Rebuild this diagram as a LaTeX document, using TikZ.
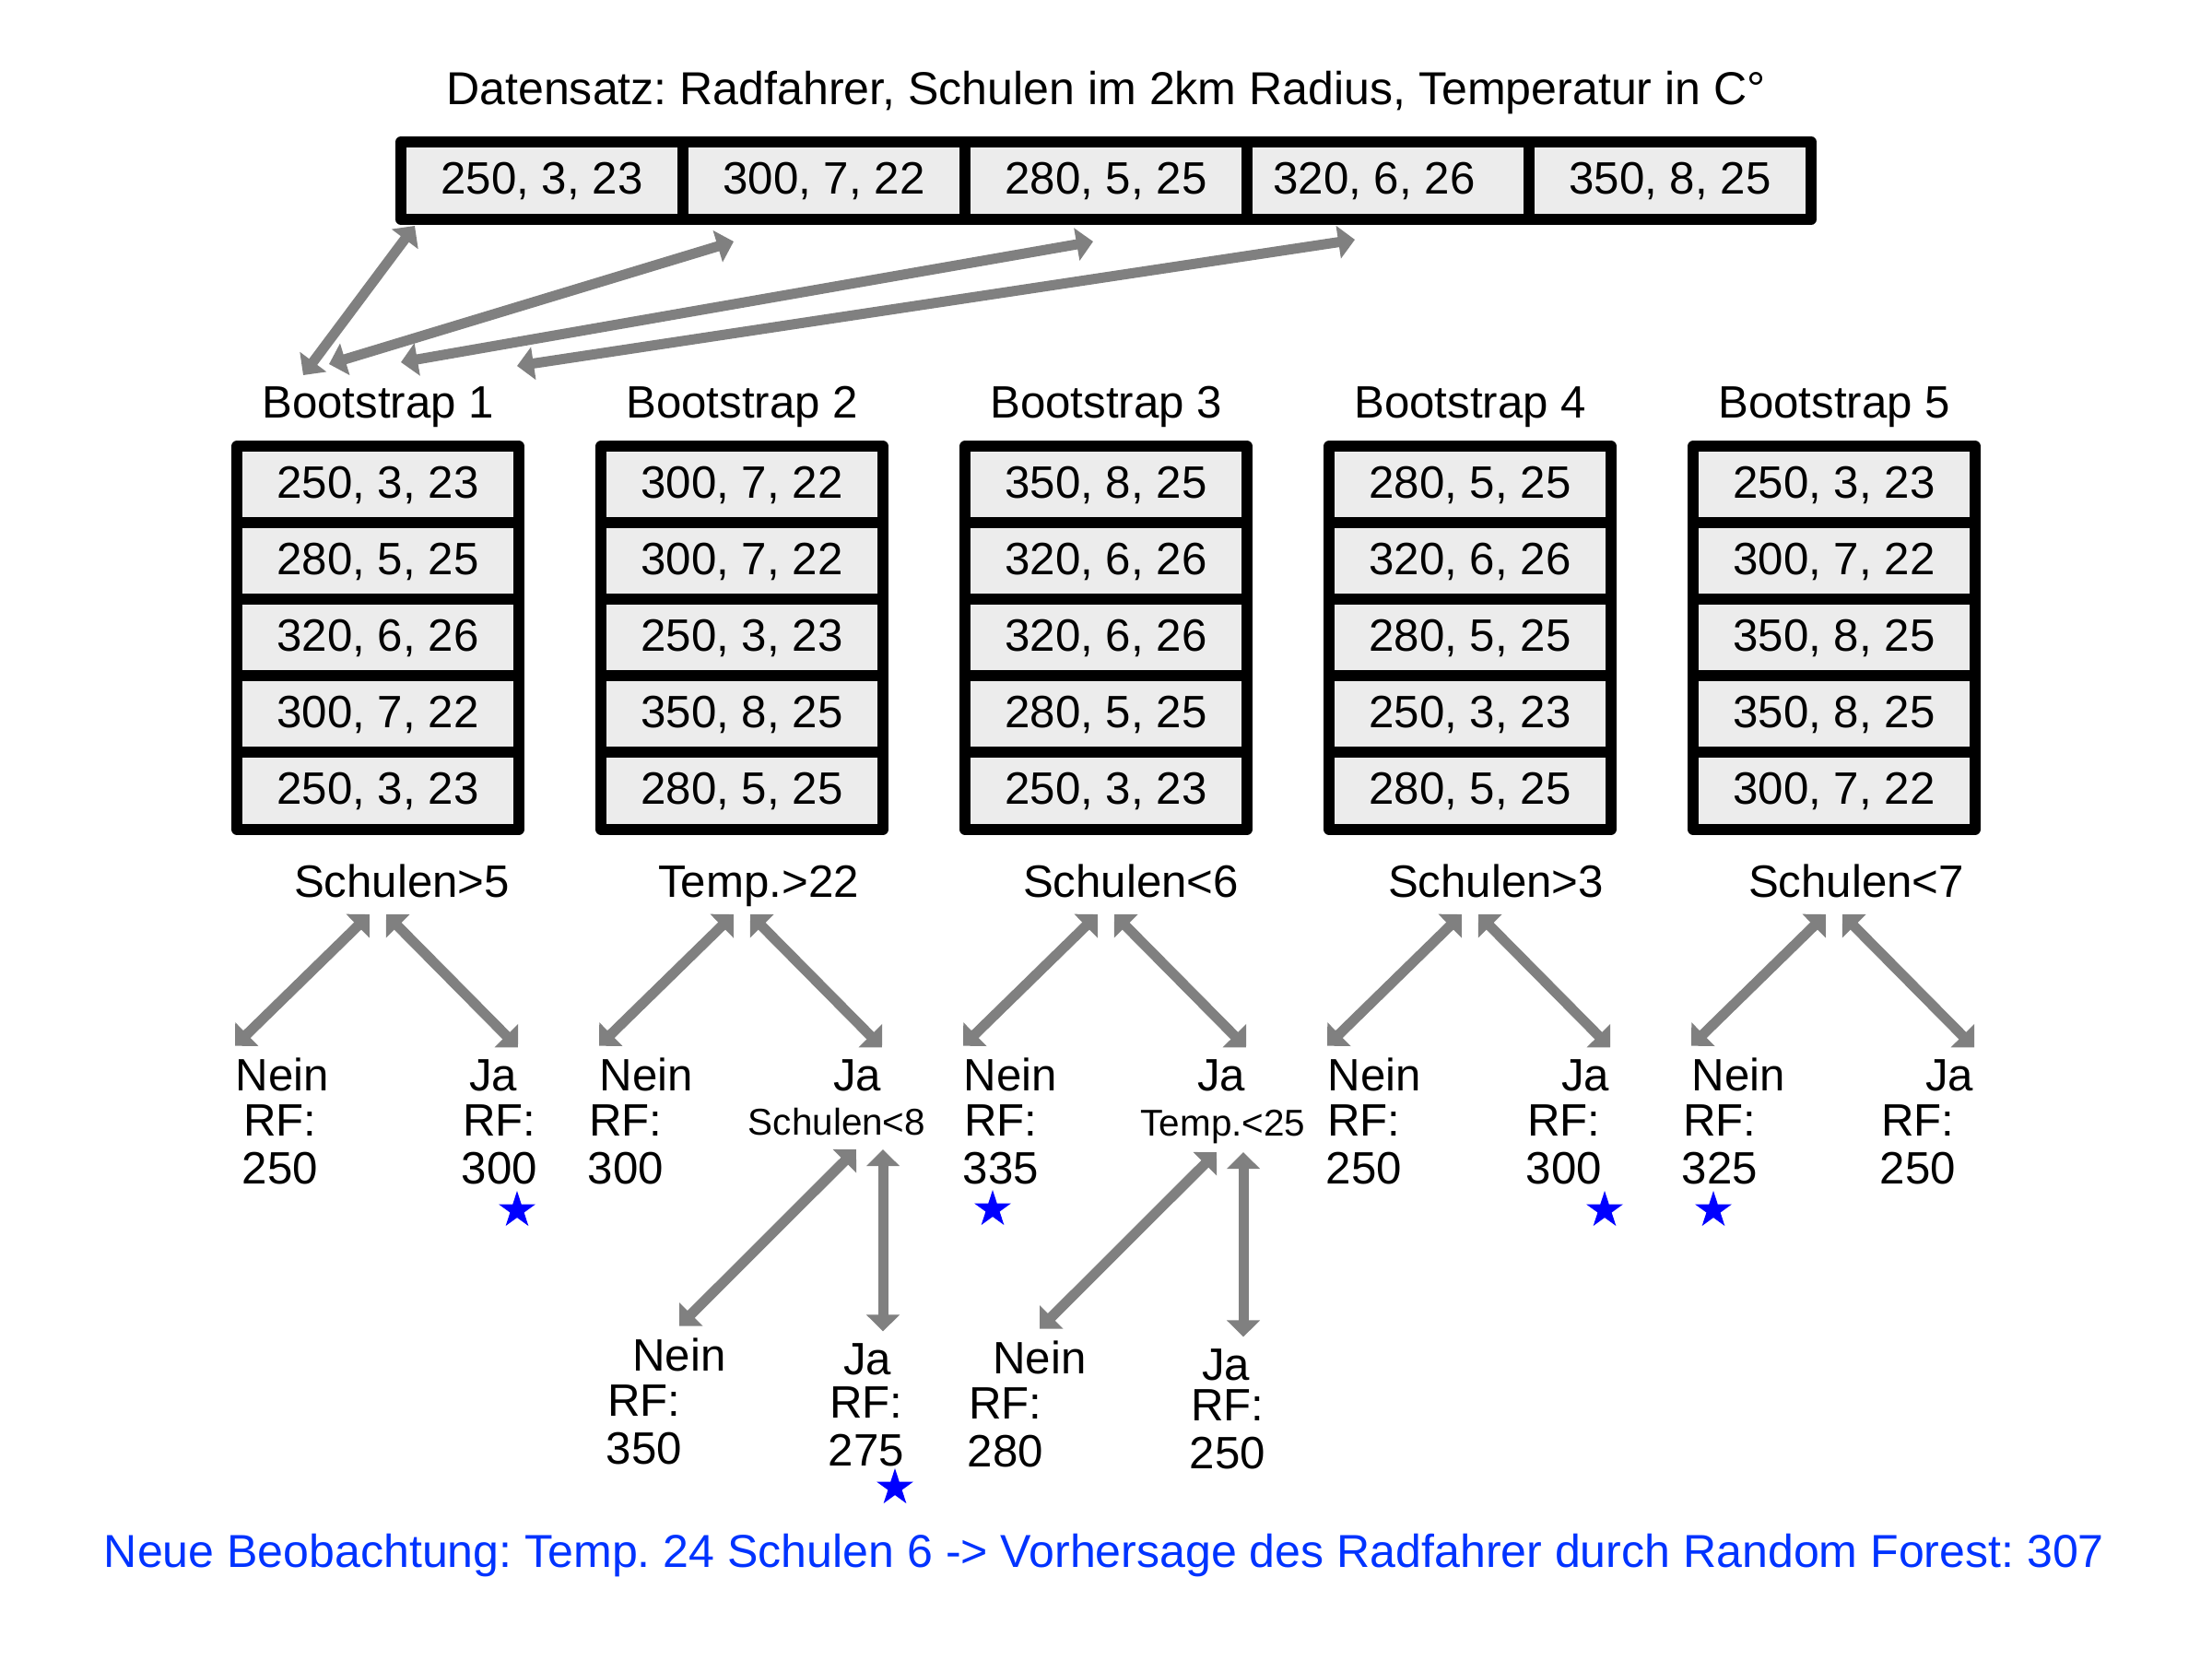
\documentclass[tikz,border=0pt]{standalone}
\usepackage{fontspec}
\setmainfont{Liberation Sans}
\usepackage{tikz}
\usetikzlibrary{arrows.meta, shapes.geometric}
\definecolor{predblue}{RGB}{0,51,255}
\frenchspacing

\begin{document}
\begin{tikzpicture}[
      every node/.style = {font=\fontsize{14}{14.8}\selectfont, inner sep=0pt},
      cell/.style = {
        rectangle, draw=black, fill=gray!15, line width=1.2mm, line join=round,
        minimum width=3.06cm, minimum height=0.832cm,
        text height=0.35cm, text depth=0.06cm
      },
      arr/.style = {
        draw=gray, line width=1.1mm,
        {Triangle[length=1.8mm, width=3.5mm]}-{Triangle[length=1.8mm, width=3.5mm]}
      },
      leaf/.style = {inner ysep=1.2mm},
      subsplit/.style = {font=\fontsize{11.5}{13}\selectfont},
      rf/.style = {align=center},
      wide/.style = {font=\fontsize{14.25}{15}\selectfont},
      hit/.style = {star, star points=5, star point ratio=2.618, fill=blue, minimum size=4.2mm}
    ]

    \useasboundingbox (0,0) rectangle (24,-18);

    % Datensatz
    \node[wide, anchor=base] (title) at (12,-1.13) {Datensatz: Radfahrer, Schulen im 2km Radius, Temperatur in C°};

    \node[cell, minimum height=0.84cm] (D1) at ( 5.88,-1.96) {250, 3, 23};
    \node[cell, minimum height=0.84cm] (D2) at ( 8.94,-1.96) {300, 7, 22};
    \node[cell, minimum height=0.84cm] (D3) at (12.00,-1.96) {280, 5, 25};
    \node[cell, minimum height=0.84cm] (D4) at (15.06,-1.96) {320, 6, 26\hspace*{3mm}};
    \node[cell, minimum height=0.84cm] (D5) at (18.12,-1.96) {350, 8, 25};

    % Ziehen mit Zuruecklegen
    \coordinate (pick1) at ( 4.50,-2.45);  \coordinate (take1) at (3.29,-4.07);
    \coordinate (pick2) at ( 7.96,-2.62);  \coordinate (take2) at (3.57,-3.95);
    \coordinate (pick3) at (11.86,-2.62);  \coordinate (take3) at (4.35,-3.93);
    \coordinate (pick4) at (14.70,-2.60);  \coordinate (take4) at (5.61,-3.97);
    \draw[arr] (pick1) -- (take1);
    \draw[arr] (pick2) -- (take2);
    \draw[arr] (pick3) -- (take3);
    \draw[arr] (pick4) -- (take4);

    % Bootstrap-Stichproben
    \node[anchor=base] (B1lab) at ( 4.10,-4.53) {Bootstrap 1};
    \node[anchor=base] (B2lab) at ( 8.05,-4.53) {Bootstrap 2};
    \node[anchor=base] (B3lab) at (12.00,-4.53) {Bootstrap 3};
    \node[anchor=base] (B4lab) at (15.95,-4.53) {Bootstrap 4};
    \node[anchor=base] (B5lab) at (19.90,-4.53) {Bootstrap 5};

    \node[cell] (B1a) at ( 4.10,-5.26) {250, 3, 23};
    \node[cell] (B1b) at ( 4.10,-6.09) {280, 5, 25};
    \node[cell] (B1c) at ( 4.10,-6.92) {320, 6, 26};
    \node[cell] (B1d) at ( 4.10,-7.75) {300, 7, 22};
    \node[cell] (B1e) at ( 4.10,-8.58) {250, 3, 23};

    \node[cell] (B2a) at ( 8.05,-5.26) {300, 7, 22};
    \node[cell] (B2b) at ( 8.05,-6.09) {300, 7, 22};
    \node[cell] (B2c) at ( 8.05,-6.92) {250, 3, 23};
    \node[cell] (B2d) at ( 8.05,-7.75) {350, 8, 25};
    \node[cell] (B2e) at ( 8.05,-8.58) {280, 5, 25};

    \node[cell] (B3a) at (12.00,-5.26) {350, 8, 25};
    \node[cell] (B3b) at (12.00,-6.09) {320, 6, 26};
    \node[cell] (B3c) at (12.00,-6.92) {320, 6, 26};
    \node[cell] (B3d) at (12.00,-7.75) {280, 5, 25};
    \node[cell] (B3e) at (12.00,-8.58) {250, 3, 23};

    \node[cell] (B4a) at (15.95,-5.26) {280, 5, 25};
    \node[cell] (B4b) at (15.95,-6.09) {320, 6, 26};
    \node[cell] (B4c) at (15.95,-6.92) {280, 5, 25};
    \node[cell] (B4d) at (15.95,-7.75) {250, 3, 23};
    \node[cell] (B4e) at (15.95,-8.58) {280, 5, 25};

    \node[cell] (B5a) at (19.90,-5.26) {250, 3, 23};
    \node[cell] (B5b) at (19.90,-6.09) {300, 7, 22};
    \node[cell] (B5c) at (19.90,-6.92) {350, 8, 25};
    \node[cell] (B5d) at (19.90,-7.75) {350, 8, 25};
    \node[cell] (B5e) at (19.90,-8.58) {300, 7, 22};

    % Entscheidungsbaeume
    \node[anchor=base] (split1) at ( 4.36,-9.73) {Schulen>5};
    \node[anchor=base] (split2) at ( 8.23,-9.73) {Temp.>22};
    \node[anchor=base] (split3) at (12.27,-9.73) {Schulen<6};
    \node[anchor=base] (split4) at (16.23,-9.73) {Schulen>3};
    \node[anchor=base] (split5) at (20.14,-9.73) {Schulen<7};

    \coordinate (fork1l) at ( 4.01,-9.92);  \coordinate (fork1r) at ( 4.19,-9.92);
    \coordinate (fork2l) at ( 7.96,-9.92);  \coordinate (fork2r) at ( 8.14,-9.92);
    \coordinate (fork3l) at (11.91,-9.92);  \coordinate (fork3r) at (12.09,-9.92);
    \coordinate (fork4l) at (15.86,-9.92);  \coordinate (fork4r) at (16.04,-9.92);
    \coordinate (fork5l) at (19.81,-9.92);  \coordinate (fork5r) at (19.99,-9.92);

    \node[leaf, anchor=base west] (nein1) at ( 2.55,-11.83) {Nein};
    \node[leaf, anchor=base east] (ja1)   at ( 5.62,-11.83) {Ja};
    \node[leaf, anchor=base west] (nein2) at ( 6.50,-11.83) {Nein};
    \node[leaf, anchor=base east] (ja2)   at ( 9.57,-11.83) {Ja};
    \node[leaf, anchor=base west] (nein3) at (10.45,-11.83) {Nein};
    \node[leaf, anchor=base east] (ja3)   at (13.52,-11.83) {Ja};
    \node[leaf, anchor=base west] (nein4) at (14.40,-11.83) {Nein};
    \node[leaf, anchor=base east] (ja4)   at (17.47,-11.83) {Ja};
    \node[leaf, anchor=base west] (nein5) at (18.35,-11.83) {Nein};
    \node[leaf, anchor=base east] (ja5)   at (21.42,-11.83) {Ja};

    \draw[arr] (fork1l) -- (nein1.north west);  \draw[arr] (fork1r) -- (ja1.north east);
    \draw[arr] (fork2l) -- (nein2.north west);  \draw[arr] (fork2r) -- (ja2.north east);
    \draw[arr] (fork3l) -- (nein3.north west);  \draw[arr] (fork3r) -- (ja3.north east);
    \draw[arr] (fork4l) -- (nein4.north west);  \draw[arr] (fork4r) -- (ja4.north east);
    \draw[arr] (fork5l) -- (nein5.north west);  \draw[arr] (fork5r) -- (ja5.north east);

    \node[rf, anchor=north] (rfnein1) at ( 3.04,-11.98) {RF:\\250};
    \node[rf, anchor=north] (rfja1)   at ( 5.42,-11.98) {RF:\\300};
    \node[rf, anchor=north] (rfnein2) at ( 6.79,-11.98) {RF:\\300};
    \node[rf, anchor=north] (rfnein3) at (10.86,-11.98) {RF:\\335};
    \node[rf, anchor=north] (rfnein4) at (14.80,-11.98) {RF:\\250};
    \node[rf, anchor=north] (rfja4)   at (16.97,-11.98) {RF:\\300};
    \node[rf, anchor=north] (rfnein5) at (18.66,-11.98) {RF:\\325};
    \node[rf, anchor=north] (rfja5)   at (20.81,-11.98) {RF:\\250};

    % zweite Ebene
    \node[subsplit, anchor=base] (split2b) at ( 9.08,-12.31) {Schulen<8};
    \node[subsplit, anchor=base] (split3b) at (13.27,-12.32) {Temp.<25};

    \coordinate (fork2bl) at ( 9.29,-12.47);  \coordinate (fork2br) at ( 9.58,-12.47);
    \coordinate (fork3bl) at (13.20,-12.50);  \coordinate (fork3br) at (13.49,-12.50);

    \node[leaf, anchor=base] (nein2b) at ( 7.37,-14.87) {Nein};
    \node[leaf, anchor=base] (ja2b)   at ( 9.41,-14.91) {Ja};
    \node[leaf, anchor=base] (nein3b) at (11.28,-14.90) {Nein};
    \node[leaf, anchor=base] (ja3b)   at (13.30,-14.97) {Ja};

    \draw[arr] (fork2bl) -- (nein2b.north);  \draw[arr] (fork2br) -- (fork2br |- ja2b.north);
    \draw[arr] (fork3bl) -- (nein3b.north);  \draw[arr] (fork3br) -- (fork3br |- ja3b.north);

    \node[rf, anchor=north] (rfnein2b) at ( 6.99,-15.02) {RF:\\350};
    \node[rf, anchor=north] (rfja2b)   at ( 9.40,-15.04) {RF:\\275};
    \node[rf, anchor=north] (rfnein3b) at (10.91,-15.05) {RF:\\280};
    \node[rf, anchor=north] (rfja3b)   at (13.32,-15.07) {RF:\\250};

    % Treffer der neuen Beobachtung
    \node[hit] (star1) at ( 5.61,-13.13) {};
    \node[hit] (star2) at (10.77,-13.12) {};
    \node[hit] (star3) at (17.41,-13.13) {};
    \node[hit] (star4) at (18.59,-13.13) {};
    \node[hit] (star5) at ( 9.71,-16.14) {};

    \node[wide, anchor=base, text=predblue] (forecast) at (11.98,-17.00)
      {Neue Beobachtung: Temp. 24 Schulen 6 -> Vorhersage des Radfahrer durch Random Forest: 307};

  \end{tikzpicture}
\end{document}
